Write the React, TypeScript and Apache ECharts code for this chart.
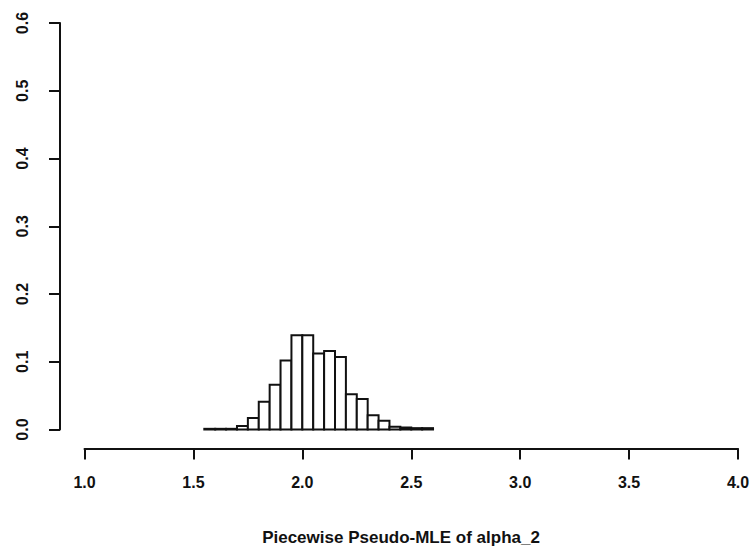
import React, { useEffect, useRef } from "react";
import * as echarts from "echarts";

const binLeft = [1.55, 1.6, 1.65, 1.7, 1.75, 1.8, 1.85, 1.9, 1.95, 2.0, 2.05, 2.1, 2.15, 2.2, 2.25, 2.3, 2.35, 2.4, 2.45, 2.5, 2.55];
const binRight = [1.6, 1.65, 1.7, 1.75, 1.8, 1.85, 1.9, 1.95, 2.0, 2.05, 2.1, 2.15, 2.2, 2.25, 2.3, 2.35, 2.4, 2.45, 2.5, 2.55, 2.6];
const density = [0.001, 0.001, 0.001, 0.005, 0.017, 0.041, 0.066, 0.102, 0.139, 0.139, 0.112, 0.116, 0.107, 0.052, 0.045, 0.021, 0.013, 0.004, 0.003, 0.002, 0.002];
const xTicks = ["1.0", "1.5", "2.0", "2.5", "3.0", "3.5", "4.0"];
const yTicks = ["0.0", "0.1", "0.2", "0.3", "0.4", "0.5", "0.6"];
const xTitle = "Piecewise Pseudo-MLE of alpha_2";

const FONT = "'Liberation Sans', Arial, Helvetica, sans-serif";

export default function App() {
  const ref = useRef<HTMLDivElement>(null);
  useEffect(() => {
    if (!ref.current) return;
    const chart = echarts.init(ref.current, null, { renderer: "svg" });
    const data = binLeft.map((l, i) => [l, binRight[i], density[i]]);
    chart.setOption({
      animation: false,
      backgroundColor: "#ffffff",
      grid: { left: 84.5, right: 15, top: 23, bottom: 120.5 },
      xAxis: {
        type: "value",
        min: 1,
        max: 4,
        interval: 0.5,
        offset: 19,
        axisLine: { show: true, onZero: false, lineStyle: { color: "#111", width: 2 } },
        axisTick: { show: true, length: 11, lineStyle: { color: "#111", width: 2 } },
        splitLine: { show: false },
        axisLabel: {
          margin: 26,
          color: "#111",
          fontSize: 16,
          fontWeight: "bold",
          fontFamily: FONT,
          formatter: (v: number) => xTicks[Math.round((v - 1) / 0.5)] ?? "",
        },
      },
      yAxis: {
        type: "value",
        min: 0,
        max: 0.6,
        interval: 0.1,
        offset: 24.5,
        axisLine: { show: true, onZero: false, lineStyle: { color: "#111", width: 2 } },
        axisTick: { show: true, length: 11, lineStyle: { color: "#111", width: 2 } },
        splitLine: { show: false },
        axisLabel: {
          rotate: 90,
          margin: 30,
          color: "#111",
          fontSize: 16,
          fontWeight: "bold",
          fontFamily: FONT,
          formatter: (v: number) => yTicks[Math.round(v / 0.1)] ?? "",
        },
      },
      graphic: [
        {
          type: "text",
          x: 401,
          y: 537,
          style: {
            text: xTitle,
            fill: "#111",
            font: `bold 17px ${FONT}`,
            textAlign: "center",
            textVerticalAlign: "middle",
          },
        },
      ],
      series: [
        {
          type: "custom",
          data,
          encode: { x: [0, 1], y: 2 },
          renderItem: (params: any, api: any) => {
            const p0 = api.coord([api.value(0), api.value(2)]);
            const p1 = api.coord([api.value(1), 0]);
            return {
              type: "rect",
              shape: { x: p0[0], y: p0[1], width: p1[0] - p0[0], height: p1[1] - p0[1] },
              style: { fill: "#ffffff", stroke: "#111", lineWidth: 2 },
            };
          },
        },
      ],
    });
    return () => chart.dispose();
  }, []);
  return <div ref={ref} style={{ width: 753, height: 550, position: "absolute", left: 0, top: 0 }} />;
}
